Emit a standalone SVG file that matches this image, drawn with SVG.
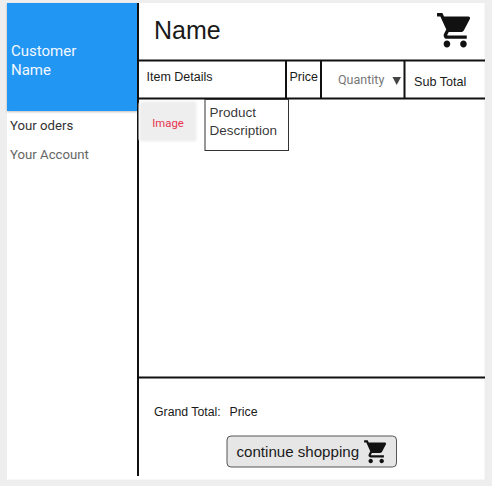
<svg xmlns="http://www.w3.org/2000/svg" width="492" height="486" viewBox="0 0 492 486">
<style>
.s{font-family:"Liberation Sans",Arial,sans-serif;fill:#1a1a1a}
.r{font-family:Roboto,"Liberation Sans",sans-serif}
.l{stroke:#111;stroke-width:2;fill:none}
</style>
<defs>
<path id="cart" d="M7 18c-1.100 0-2 .9-2 2s.9 2 2 2 2-.9 2-2-.9-2-2-2zM1 2v2h2l3.600 7.590-1.350 2.450c-.16.280-.25.610-.25.960 0 1.100.9 2 2 2h12v-2H7.420c-.14 0-.25-.11-.25-.25l.03-.12.900-1.630h7.450c.75 0 1.410-.41 1.750-1.030l3.580-6.490A1 1 0 0 0 20 4H5.210l-.94-2H1zm16 16c-1.100 0-2 .9-2 2s.9 2 2 2 2-.9 2-2-.9-2-2-2z" fill="#111"/>
<filter id="sh" x="-10%" y="-10%" width="120%" height="120%"><feDropShadow dx="0" dy="1" stdDeviation="1.200" flood-color="#000" flood-opacity=".25"/></filter>
</defs>
<rect width="492" height="486" fill="#eeeeee"/>
<rect x="7" y="3" width="477.500" height="476.500" fill="#ffffff"/>
<g id="sidebar-header">
<rect x="7" y="3" width="130" height="108" fill="#2196f3" filter="url(#sh)"/>
<text class="r" x="11" y="56" font-size="15" fill="#f2f8ff">Customer</text>
<text class="r" x="11" y="75" font-size="15" fill="#f2f8ff">Name</text>
</g>
<g id="menu-orders"><text class="r" x="10" y="130" font-size="13.200" fill="#333">Your oders</text></g>
<g id="menu-account"><text class="r" x="10" y="159" font-size="13.200" fill="#666">Your Account</text></g>
<g id="connectors">
<path class="l" d="M138 3V476"/>
<path class="l" d="M138 60.500H485"/>
<path class="l" d="M138 98.500H485"/>
<path class="l" d="M286 60V98M321 60V98M404.500 60V98"/>
<path class="l" d="M138 377.500H485"/>
</g>
<g id="title"><text class="s" x="154" y="39" font-size="25">Name</text></g>
<g id="title-cart"><use href="#cart" transform="translate(435.400 9.600) scale(1.650 1.720)"/></g>
<g id="col-item"><text class="s" x="146.500" y="81" font-size="12.500">Item Details</text></g>
<g id="col-price"><text class="s" x="289.500" y="81" font-size="12.500">Price</text></g>
<g id="col-quantity">
<text class="r" x="338" y="84" font-size="12.500" fill="#777">Quantity</text>
<path d="M392.500 77H401L396.700 85Z" fill="#444"/>
</g>
<g id="col-subtotal"><text class="s" x="414" y="86" font-size="12.600">Sub Total</text></g>
<g id="image">
<rect x="139.500" y="101.500" width="57" height="40" rx="3" fill="#eeeeee" stroke="#f7f7f7" stroke-width="2"/>
<text class="r" x="168" y="127" font-size="11.300" fill="#e8344e" text-anchor="middle">Image</text>
</g>
<g id="description">
<rect x="205" y="99.500" width="83.500" height="51" fill="#fff" stroke="#333" stroke-width="1"/>
<text class="s" x="209.500" y="117" font-size="13.500" fill-opacity=".9">Product</text>
<text class="s" x="209.500" y="135" font-size="13.500" fill-opacity=".9">Description</text>
</g>
<g id="grand-total">
<text class="s" x="154" y="416" font-size="12.300">Grand Total:</text>
<text class="s" x="229.500" y="416" font-size="12.300">Price</text>
</g>
<g id="continue-button">
<rect x="227" y="436" width="169.500" height="31" rx="4" fill="#e6e6e6" stroke="#555" stroke-width="1"/>
<text class="s" x="236.500" y="457" font-size="15.100">continue shopping</text>
<use href="#cart" transform="translate(363 438) scale(1.100 1.150)"/>
</g>
</svg>
